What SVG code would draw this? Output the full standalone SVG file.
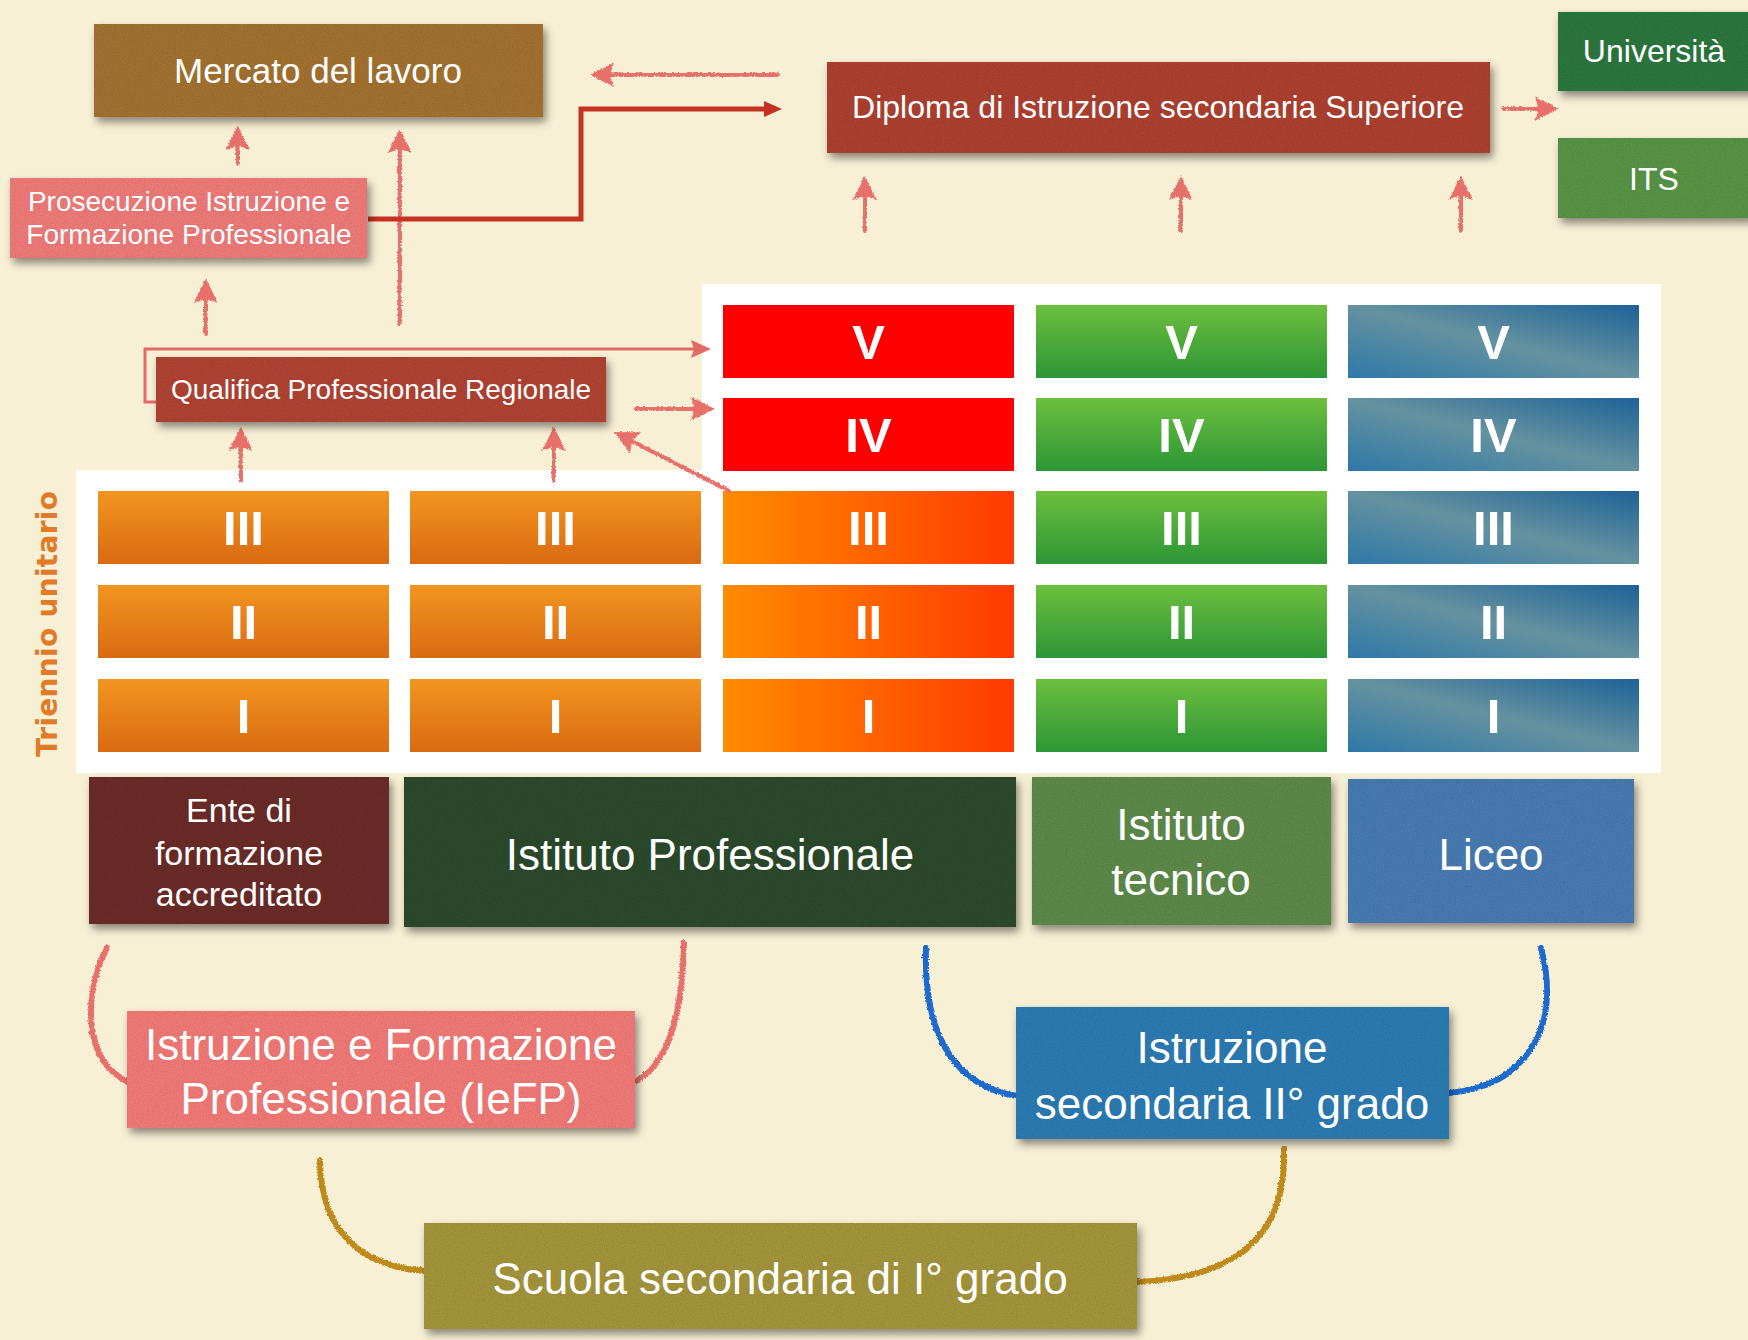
<svg xmlns="http://www.w3.org/2000/svg" width="1748" height="1340" viewBox="0 0 1748 1340">
<defs>
<style>
.t{font-family:"Liberation Sans",Arial,sans-serif;fill:#fff;text-anchor:middle}
.num{font-family:"Liberation Sans",Arial,sans-serif;font-weight:bold;font-size:49px;fill:#fff;text-anchor:middle}
.arr{fill:none;stroke:#E8706B;stroke-width:4;stroke-linecap:round}
.crv{fill:none;stroke-width:6;stroke-linecap:round}
</style>
<linearGradient id="gOr" x1="0" y1="0" x2="0" y2="1"><stop offset="0" stop-color="#F3951F"/><stop offset="1" stop-color="#D96A12"/></linearGradient>
<linearGradient id="gRo" x1="0" y1="0" x2="1" y2="0"><stop offset="0" stop-color="#FF8C00"/><stop offset="1" stop-color="#FF3A00"/></linearGradient>
<linearGradient id="gGr" x1="0" y1="0" x2="0" y2="1"><stop offset="0" stop-color="#6DBF3E"/><stop offset="1" stop-color="#2C9636"/></linearGradient>
<linearGradient id="gBl" x1="0" y1="1" x2="1" y2="0"><stop offset="0" stop-color="#2E78A8"/><stop offset="0.5" stop-color="#6592A0"/><stop offset="1" stop-color="#1E6297"/></linearGradient>
<filter id="box" x="-10%" y="-15%" width="125%" height="140%">
<feTurbulence type="fractalNoise" baseFrequency="0.9" numOctaves="2" seed="4" result="n"/>
<feColorMatrix in="n" type="matrix" values="0 0 0 0 0  0 0 0 0 0  0 0 0 0 0  0.35 0 0 0 -0.08" result="na"/>
<feComposite in="na" in2="SourceGraphic" operator="in" result="tex"/>
<feDropShadow in="SourceGraphic" dx="3" dy="5" stdDeviation="4" flood-color="#000" flood-opacity="0.45" result="sh"/>
<feMerge><feMergeNode in="sh"/><feMergeNode in="tex"/></feMerge>
</filter>
<filter id="rough" x="-20%" y="-20%" width="140%" height="140%">
<feTurbulence type="turbulence" baseFrequency="0.35" numOctaves="2" seed="2" result="t"/>
<feDisplacementMap in="SourceGraphic" in2="t" scale="3" xChannelSelector="R" yChannelSelector="G"/>
</filter>
<marker id="ah" markerUnits="userSpaceOnUse" markerWidth="24" markerHeight="24" viewBox="0 0 24 24" refX="8" refY="12" orient="auto"><path d="M0,0 L24,12 L0,24 L4,12 z" fill="#E8706B"/></marker>
<marker id="ahd" markerUnits="userSpaceOnUse" markerWidth="18" markerHeight="16" viewBox="0 0 18 16" refX="6" refY="8" orient="auto"><path d="M0,0 L18,8 L0,16 z" fill="#C43222"/></marker>
<marker id="ahb" markerUnits="userSpaceOnUse" markerWidth="20" markerHeight="18" viewBox="0 0 20 18" refX="6" refY="9" orient="auto"><path d="M0,0 L20,9 L0,18 L3,9 z" fill="#E46A66"/></marker>
</defs>
<rect width="1748" height="1340" fill="#F8F0D5"/>

<!-- white panel -->
<path d="M702,284 H1661 V773 H76 V470 H702 Z" fill="#FFFFFF"/>

<!-- grid cells -->
<g id="grid">
<g id="col1">
<rect x="98" y="491" width="291" height="73" fill="url(#gOr)"/><text class="num" x="243.5" y="545">III</text>
<rect x="98" y="585" width="291" height="73" fill="url(#gOr)"/><text class="num" x="243.5" y="639">II</text>
<rect x="98" y="679" width="291" height="73" fill="url(#gOr)"/><text class="num" x="243.5" y="733">I</text>
</g>
<g id="col2">
<rect x="410" y="491" width="291" height="73" fill="url(#gOr)"/><text class="num" x="555.5" y="545">III</text>
<rect x="410" y="585" width="291" height="73" fill="url(#gOr)"/><text class="num" x="555.5" y="639">II</text>
<rect x="410" y="679" width="291" height="73" fill="url(#gOr)"/><text class="num" x="555.5" y="733">I</text>
</g>
<g id="col3">
<rect x="723" y="305" width="291" height="73" fill="#FF0000"/><text class="num" x="868.5" y="359">V</text>
<rect x="723" y="398" width="291" height="73" fill="#FF0000"/><text class="num" x="868.5" y="452">IV</text>
<rect x="723" y="491" width="291" height="73" fill="url(#gRo)"/><text class="num" x="868.5" y="545">III</text>
<rect x="723" y="585" width="291" height="73" fill="url(#gRo)"/><text class="num" x="868.5" y="639">II</text>
<rect x="723" y="679" width="291" height="73" fill="url(#gRo)"/><text class="num" x="868.5" y="733">I</text>
</g>
<g id="col4">
<rect x="1036" y="305" width="291" height="73" fill="url(#gGr)"/><text class="num" x="1181.5" y="359">V</text>
<rect x="1036" y="398" width="291" height="73" fill="url(#gGr)"/><text class="num" x="1181.5" y="452">IV</text>
<rect x="1036" y="491" width="291" height="73" fill="url(#gGr)"/><text class="num" x="1181.5" y="545">III</text>
<rect x="1036" y="585" width="291" height="73" fill="url(#gGr)"/><text class="num" x="1181.5" y="639">II</text>
<rect x="1036" y="679" width="291" height="73" fill="url(#gGr)"/><text class="num" x="1181.5" y="733">I</text>
</g>
<g id="col5">
<rect x="1348" y="305" width="291" height="73" fill="url(#gBl)"/><text class="num" x="1493.5" y="359">V</text>
<rect x="1348" y="398" width="291" height="73" fill="url(#gBl)"/><text class="num" x="1493.5" y="452">IV</text>
<rect x="1348" y="491" width="291" height="73" fill="url(#gBl)"/><text class="num" x="1493.5" y="545">III</text>
<rect x="1348" y="585" width="291" height="73" fill="url(#gBl)"/><text class="num" x="1493.5" y="639">II</text>
<rect x="1348" y="679" width="291" height="73" fill="url(#gBl)"/><text class="num" x="1493.5" y="733">I</text>
</g>
</g>

<text id="triennio" transform="translate(57,624) rotate(-90)" text-anchor="middle" font-family="'DejaVu Sans',Verdana,sans-serif" font-weight="bold" font-size="28" fill="#E27B28" textLength="266">Triennio unitario</text>

<!-- connectors -->
<g id="connectors">
<g filter="url(#rough)">
<path class="arr" d="M777,74 L605,74" marker-end="url(#ah)"/>
<path class="arr" d="M1503,108 L1542,108" marker-end="url(#ah)"/>
<path class="arr" d="M864,230 L864,191" marker-end="url(#ah)"/>
<path class="arr" d="M1180,230 L1180,191" marker-end="url(#ah)"/>
<path class="arr" d="M1460,230 L1460,191" marker-end="url(#ah)"/>
<path class="arr" d="M237,163 L237,141" marker-end="url(#ah)"/>
<path class="arr" d="M399,323 L399,144" marker-end="url(#ah)"/>
<path class="arr" d="M205,333 L205,294" marker-end="url(#ah)"/>
<path class="arr" d="M240,480 L240,442" marker-end="url(#ah)"/>
<path class="arr" d="M553,480 L553,442" marker-end="url(#ah)"/>
<path class="arr" d="M635,408 L698,408" marker-end="url(#ah)"/>
<path class="arr" d="M728,490 L627.5,438.4" marker-end="url(#ah)"/>
<path class="crv" stroke="#E8706B" d="M106,947 C80,1000 85,1062 127,1081"/>
<path class="crv" stroke="#E8706B" d="M683,942 C682,1000 672,1060 636,1080"/>
<path class="crv" stroke="#1E6ACC" d="M925,947 C922,1040 958,1086 1016,1095"/>
<path class="crv" stroke="#1E6ACC" d="M1540,947 C1562,1030 1522,1086 1449,1092"/>
<path class="crv" stroke="#BE8A1C" d="M319,1160 C320,1230 360,1266 424,1270"/>
<path class="crv" stroke="#BE8A1C" d="M1283,1148 C1286,1232 1240,1276 1138,1281"/>
</g>
<path d="M368,219 H581 V109 H770" fill="none" stroke="#C43222" stroke-width="5" marker-end="url(#ahd)"/>
<path d="M193,402 H145 V349 H697" fill="none" stroke="#E46A66" stroke-width="3" marker-end="url(#ahb)"/>
</g>

<!-- nodes -->
<g id="mercato"><rect x="94" y="24" width="449" height="93" fill="#A57332" filter="url(#box)"/><text class="t" x="318" y="83" font-size="35">Mercato del lavoro</text></g>
<g id="diploma"><rect x="827" y="62" width="663" height="91" fill="#AF4332" filter="url(#box)"/><text class="t" x="1158" y="118" font-size="32">Diploma di Istruzione secondaria Superiore</text></g>
<g id="universita"><rect x="1558" y="12" width="200" height="79" fill="#2D7841" filter="url(#box)"/><text class="t" x="1654" y="62" font-size="32">Università</text></g>
<g id="its"><rect x="1558" y="138" width="200" height="80" fill="#5A9646" filter="url(#box)"/><text class="t" x="1654" y="190" font-size="32">ITS</text></g>
<g id="prosecuzione"><rect x="10" y="178" width="357" height="80" fill="#F27D7A" filter="url(#box)"/><text class="t" x="189" y="211" font-size="28">Prosecuzione Istruzione e</text><text class="t" x="189" y="244" font-size="28">Formazione Professionale</text></g>
<g id="qualifica"><rect x="156" y="357" width="450" height="65" fill="#B24434" filter="url(#box)"/><text class="t" x="381" y="399" font-size="28">Qualifica Professionale Regionale</text></g>
<g id="ente"><rect x="89" y="777" width="300" height="147" fill="#6D2E2A" filter="url(#box)"/><text class="t" x="239" y="822" font-size="34">Ente di</text><text class="t" x="239" y="865" font-size="34">formazione</text><text class="t" x="239" y="906" font-size="34">accreditato</text></g>
<g id="istprof"><rect x="404" y="777" width="612" height="150" fill="#2E4B2E" filter="url(#box)"/><text class="t" x="710" y="870" font-size="44">Istituto Professionale</text></g>
<g id="isttec"><rect x="1032" y="777" width="299" height="148" fill="#5F8C4B" filter="url(#box)"/><text class="t" x="1181" y="840" font-size="44">Istituto</text><text class="t" x="1181" y="895" font-size="44">tecnico</text></g>
<g id="liceo"><rect x="1348" y="779" width="286" height="144" fill="#4A7DB4" filter="url(#box)"/><text class="t" x="1491" y="870" font-size="44">Liceo</text></g>
<g id="iefp"><rect x="127" y="1011" width="508" height="117" fill="#F47C78" filter="url(#box)"/><text class="t" x="381" y="1060" font-size="44">Istruzione e Formazione</text><text class="t" x="381" y="1114" font-size="44">Professionale (IeFP)</text></g>
<g id="istrsec"><rect x="1016" y="1007" width="433" height="132" fill="#2D7DB5" filter="url(#box)"/><text class="t" x="1232" y="1063" font-size="44">Istruzione</text><text class="t" x="1232" y="1119" font-size="44">secondaria II° grado</text></g>
<g id="scuola"><rect x="424" y="1223" width="713" height="106" fill="#A6973C" filter="url(#box)"/><text class="t" x="780" y="1294" font-size="44">Scuola secondaria di I° grado</text></g>
</svg>
